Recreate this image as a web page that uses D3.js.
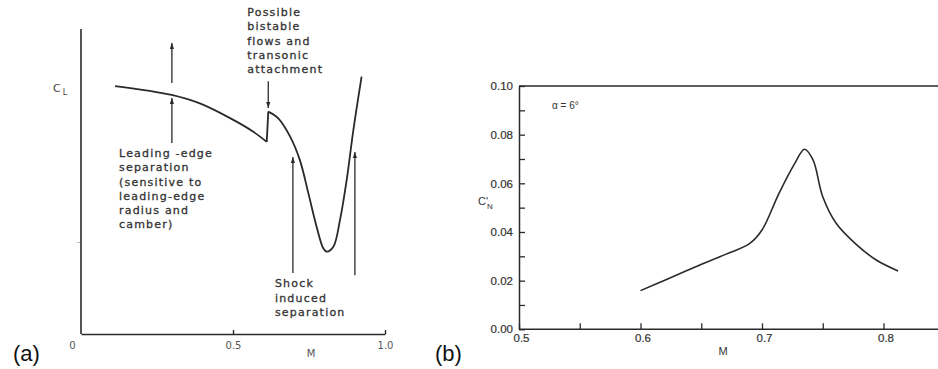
<!DOCTYPE html>
<html>
<head>
<meta charset="utf-8">
<script src="https://cdn.jsdelivr.net/npm/d3@7"></script>
<style>
  body { margin: 0; background: #fff; }
  svg { display: block; }
</style>
</head>
<body>
<div id="chart"></div>
<script>
// panel (a): C_L against M, sketch curve (spike at index 5 -> 6)
const mA  = [0.112, 0.298, 0.391, 0.501, 0.567, 0.611, 0.616, 0.649, 0.688, 0.720, 0.748, 0.775, 0.797, 0.808, 0.830, 0.852, 0.874, 0.896, 0.923];
const clA = [0.813, 0.784, 0.756, 0.702, 0.663, 0.630, 0.729, 0.707, 0.647, 0.570, 0.461, 0.352, 0.281, 0.270, 0.286, 0.374, 0.505, 0.669, 0.844];
const spikeAt = 5;
const ticksA = [0, 0.5, 1.0];
const tickLabelsA = ["0", "0.5", "1.0"];

// arrows in (a): [M, from CL, to CL]
const arrowsA = [
  [0.299, 0.823, 0.954],
  [0.299, 0.626, 0.774],
  [0.616, 0.829, 0.741],
  [0.697, 0.200, 0.580],
  [0.901, 0.193, 0.597]
];
const notes = [
  { m: 0.547, cl: 1.042, lines: ["Possible", "bistable", "flows and", "transonic", "attachment"] },
  { m: 0.125, cl: 0.580, lines: ["Leading -edge", "separation", "(sensitive to", "leading-edge", "radius and", "camber)"] },
  { m: 0.638, cl: 0.153, lines: ["Shock", "induced", "separation"] }
];

// panel (b): C'N against M, alpha = 6 deg
const mB = [0.600, 0.620, 0.645, 0.670, 0.690, 0.700, 0.714, 0.727, 0.735, 0.742, 0.750, 0.761, 0.778, 0.794, 0.812];
const cnB = [0.0159, 0.0202, 0.0256, 0.0308, 0.0353, 0.0408, 0.0559, 0.0682, 0.0740, 0.0696, 0.0545, 0.0436, 0.0347, 0.0285, 0.0240];
const ticksBx = [0.5, 0.55, 0.6, 0.65, 0.7, 0.75, 0.8, 0.85];
const ticksBy = [0, 0.01, 0.02, 0.03, 0.04, 0.05, 0.06, 0.07, 0.08, 0.09, 0.10];

const ink = "#2a2a2a";
const W = 938, H = 369;

const svg = d3.select("#chart").append("svg")
  .attr("width", W).attr("height", H);

svg.append("defs").append("marker")
  .attr("id", "head")
  .attr("viewBox", "0 0 10 10")
  .attr("refX", 10).attr("refY", 5)
  .attr("markerWidth", 8).attr("markerHeight", 6)
  .attr("markerUnits", "userSpaceOnUse")
  .attr("orient", "auto")
  .append("path")
  .attr("d", "M0,1.5L10,5L0,8.5z")
  .attr("fill", ink);

// ---------- panel (a) ----------
const xA = d3.scaleLinear().domain([0, 1]).range([81, 385]);
const yA = d3.scaleLinear().domain([0, 1]).range([334, 29]);

const gA = svg.append("g");

gA.append("line")
  .attr("x1", xA(0)).attr("x2", xA(0))
  .attr("y1", yA(0)).attr("y2", yA(1))
  .attr("stroke", ink).attr("stroke-width", 1.6);

gA.append("line")
  .attr("x1", xA(0) - 1).attr("x2", xA(0) - 4)
  .attr("y1", yA(0.3)).attr("y2", yA(0.3))
  .attr("stroke", "#bbb").attr("stroke-width", 1);

const axA = gA.append("g")
  .attr("transform", `translate(0,${yA(0)})`)
  .call(d3.axisBottom(xA).tickValues(ticksA)
    .tickSizeInner(-4).tickSizeOuter(0).tickPadding(8)
    .tickFormat((d, i) => tickLabelsA[i]));
axA.select(".domain").attr("stroke", ink).attr("stroke-width", 1.6);
axA.selectAll(".tick line").attr("stroke", ink).attr("stroke-width", 1.4)
  .filter(d => d === 0).remove();
axA.selectAll(".tick text")
  .attr("fill", "#555").style("font-family", "DejaVu Sans").style("font-size", "10px")
  .attr("dx", d => d === 0 ? -9 : 0);

gA.append("text")
  .attr("x", xA(0.757)).attr("y", 357)
  .attr("text-anchor", "middle")
  .attr("fill", "#555").style("font-family", "DejaVu Sans").style("font-size", "10px")
  .text("M");

const cl = gA.append("text")
  .attr("x", 53).attr("y", 92)
  .attr("fill", "#444").style("font-family", "DejaVu Sans").style("font-size", "11px");
cl.append("tspan").text("C");
cl.append("tspan").attr("dx", 2).attr("dy", 3).style("font-size", "8px").text("L");

const lineA = d3.line()
  .x(d => xA(d[0])).y(d => yA(d[1]))
  .curve(d3.curveCatmullRom.alpha(0.5));
const ptsA = mA.map((m, i) => [m, clA[i]]);

gA.append("path")
  .datum(ptsA.slice(0, spikeAt + 1))
  .attr("d", lineA)
  .attr("fill", "none").attr("stroke", ink).attr("stroke-width", 1.8);
gA.append("path")
  .datum(ptsA.slice(spikeAt, spikeAt + 2))
  .attr("d", d3.line().x(d => xA(d[0])).y(d => yA(d[1])))
  .attr("fill", "none").attr("stroke", ink).attr("stroke-width", 1.8);
gA.append("path")
  .datum(ptsA.slice(spikeAt + 1))
  .attr("d", lineA)
  .attr("fill", "none").attr("stroke", ink).attr("stroke-width", 1.8);

gA.selectAll(".arrow")
  .data(arrowsA)
  .join("line")
  .attr("class", "arrow")
  .attr("x1", d => xA(d[0])).attr("x2", d => xA(d[0]))
  .attr("y1", d => yA(d[1])).attr("y2", d => yA(d[2]))
  .attr("stroke", ink).attr("stroke-width", 1.3)
  .attr("marker-end", "url(#head)");

notes.forEach(n => {
  const t = gA.append("text")
    .attr("x", xA(n.m)).attr("y", yA(n.cl))
    .attr("fill", "#333").attr("stroke", "#333").attr("stroke-width", 0.3)
    .style("font-family", "DejaVu Sans").style("font-size", "11px")
    .style("letter-spacing", "1.2px");
  t.selectAll("tspan")
    .data(n.lines)
    .join("tspan")
    .attr("x", xA(n.m))
    .attr("dy", (d, i) => i === 0 ? 0 : 14.2)
    .text(d => d);
});

svg.append("text")
  .attr("x", 13).attr("y", 361)
  .style("font-family", "Liberation Sans").style("font-size", "22px")
  .attr("fill", "#111").text("(a)");
svg.append("text")
  .attr("x", 435).attr("y", 361)
  .style("font-family", "Liberation Sans").style("font-size", "22px")
  .attr("fill", "#111").text("(b)");

// ---------- panel (b) ----------
const xB = d3.scaleLinear().domain([0.5, 0.8]).range([519, 883.5]);
const yB = d3.scaleLinear().domain([0, 0.10]).range([329.3, 86]);

const gB = svg.append("g");
const labelFont = g => g.selectAll(".tick text")
  .attr("fill", "#333").attr("stroke", "#333").attr("stroke-width", 0.2)
  .style("font-family", "Liberation Sans").style("font-size", "11.5px");

const axBx = gB.append("g")
  .attr("transform", `translate(0,${yB(0)})`)
  .call(d3.axisBottom(xB).tickValues(ticksBx)
    .tickSizeInner(-6).tickSizeOuter(0).tickPadding(5)
    .tickFormat(d => Math.round(d * 100) % 10 === 0 ? d3.format(".1f")(d) : ""));
axBx.call(labelFont);
axBx.selectAll(".tick text").attr("dx", 2);
axBx.select(".domain").attr("d", `M${xB(0.5)},0H${W}`);

const axBy = gB.append("g")
  .attr("transform", `translate(${xB(0.5)},0)`)
  .call(d3.axisLeft(yB).tickValues(ticksBy)
    .tickSizeInner(-6).tickSizeOuter(0).tickPadding(6)
    .tickFormat(d => Math.round(d * 100) % 2 === 0 ? d3.format(".2f")(d) : ""));
axBy.call(labelFont);

[axBx, axBy].forEach(a => {
  a.select(".domain").attr("stroke", ink).attr("stroke-width", 1.5);
  a.selectAll(".tick line").attr("stroke", ink).attr("stroke-width", 1.3);
});

gB.append("line")
  .attr("x1", xB(0.5)).attr("x2", W)
  .attr("y1", yB(0.10)).attr("y2", yB(0.10))
  .attr("stroke", ink).attr("stroke-width", 1.5);

gB.append("path")
  .datum(mB.map((m, i) => [m, cnB[i]]))
  .attr("d", d3.line().x(d => xB(d[0])).y(d => yB(d[1]))
    .curve(d3.curveCatmullRom.alpha(0.5)))
  .attr("fill", "none").attr("stroke", ink).attr("stroke-width", 1.6);

gB.append("text")
  .attr("x", 723).attr("y", 355)
  .attr("text-anchor", "middle")
  .attr("fill", "#333").style("font-family", "Liberation Sans").style("font-size", "11px")
  .text("M");

const cn = gB.append("text")
  .attr("x", 478).attr("y", 205)
  .attr("fill", "#333").style("font-family", "Liberation Sans").style("font-size", "11px");
cn.append("tspan").text("C'");
cn.append("tspan").attr("dx", -1).attr("dy", 4).style("font-size", "8px").text("N");

gB.append("text")
  .attr("x", 552).attr("y", 109)
  .attr("fill", "#333").style("font-family", "Liberation Sans").style("font-size", "10px")
  .text("α = 6°");
</script>
</body>
</html>
